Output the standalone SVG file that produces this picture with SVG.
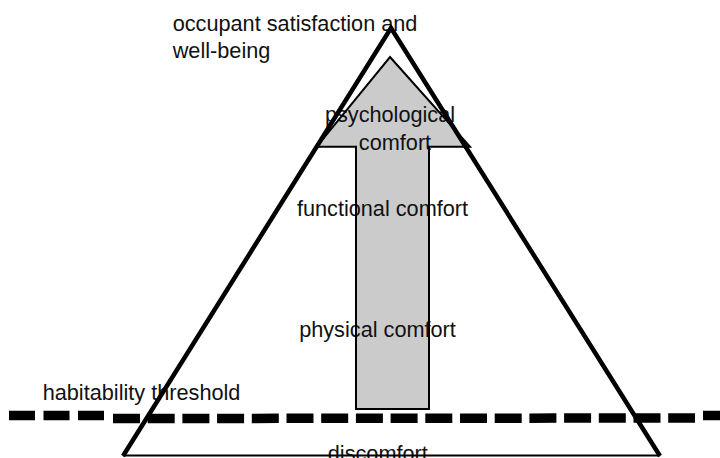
<svg xmlns="http://www.w3.org/2000/svg" xmlns:xlink="http://www.w3.org/1999/xlink" width="720" height="458" viewBox="0 0 720 458">
<style>
.lbl{font-family:"Liberation Sans",Arial,sans-serif;font-size:21.7px;fill:#111}
.mid{text-anchor:middle}
.afill{fill:#cbcbcb;stroke:none}
.aline{fill:none;stroke:#000;stroke-width:2;stroke-linejoin:miter}
.side{fill:none;stroke:#000;stroke-width:4.5;stroke-linejoin:miter}
.base{stroke:#000;stroke-width:2}
.dash{stroke:#000;stroke-width:9.5;fill:none}
</style>
<defs>
<polygon id="arrowShape" points="390,57 470,146.7 429,146.7 429,409 356,409 356,146.7 316.7,146.7"/>
</defs>
<rect width="720" height="458" fill="#fff"/>
<g id="arrow-fill">
<use xlink:href="#arrowShape" class="afill"/>
</g>
<g id="labels">
<text class="lbl" x="172.7" y="30.7">occupant satisfaction and</text>
<text class="lbl" x="172.7" y="58.3">well-being</text>
<text class="lbl mid" x="390" y="121.7">psychological</text>
<text class="lbl mid" x="395" y="150">comfort</text>
<text class="lbl mid" x="382.5" y="216">functional comfort</text>
<text class="lbl mid" x="377.5" y="336.7">physical comfort</text>
<text class="lbl" x="42.7" y="399.5">habitability threshold</text>
<text class="lbl mid" x="377.8" y="461">discomfort</text>
</g>
<g id="arrow">
<use xlink:href="#arrowShape" class="aline"/>
</g>
<g id="pyramid">
<polyline class="side" points="123,456 391,28 660,456"/>
<line class="base" x1="123" y1="455.5" x2="660" y2="455.5"/>
</g>
<g id="connectors">
<line class="dash" x1="9" y1="415.5" x2="105" y2="415.5" stroke-dasharray="26 8.5"/>
<line class="dash" x1="113" y1="418.5" x2="695" y2="418" stroke-dasharray="27 7.7"/>
<line class="dash" x1="703" y1="415.5" x2="720" y2="415.5"/>
</g>
</svg>
